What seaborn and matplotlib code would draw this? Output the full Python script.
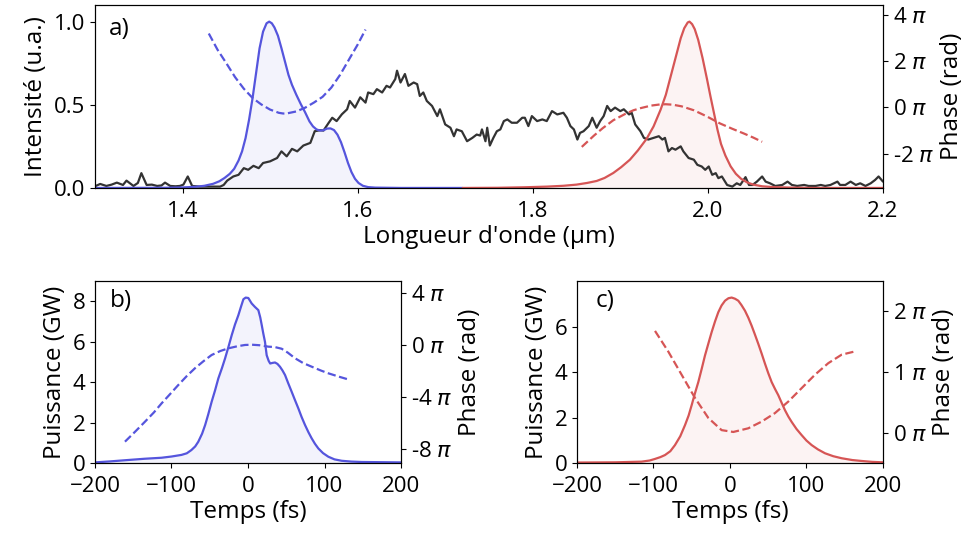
import numpy as np
import pandas as pd
import matplotlib
matplotlib.use("Agg")
import matplotlib.pyplot as plt
from matplotlib.ticker import FuncFormatter
import seaborn as sns

# ---- a) spectres ----
# spectre mesure (noir)
wl_mesure = [1.300, 1.306, 1.313, 1.319, 1.325, 1.332, 1.336, 1.344, 1.349, 1.353,
             1.359, 1.365, 1.371, 1.376, 1.380, 1.386, 1.392, 1.397, 1.401, 1.406,
             1.411, 1.420, 1.431, 1.443, 1.447, 1.451, 1.458, 1.464, 1.470, 1.475,
             1.481, 1.487, 1.492, 1.500, 1.508, 1.513, 1.519, 1.525, 1.531, 1.538,
             1.546, 1.551, 1.557, 1.561, 1.567, 1.571, 1.576, 1.582, 1.588, 1.591,
             1.597, 1.603, 1.609, 1.612, 1.618, 1.622, 1.628, 1.633, 1.637, 1.643,
             1.645, 1.649, 1.654, 1.658, 1.664, 1.668, 1.671, 1.675, 1.679, 1.685,
             1.691, 1.694, 1.700, 1.706, 1.710, 1.713, 1.719, 1.725, 1.731, 1.736,
             1.740, 1.742, 1.746, 1.748, 1.751, 1.755, 1.759, 1.763, 1.767, 1.771,
             1.776, 1.782, 1.788, 1.791, 1.795, 1.799, 1.805, 1.811, 1.816, 1.822,
             1.828, 1.835, 1.839, 1.843, 1.847, 1.851, 1.854, 1.858, 1.862, 1.864,
             1.868, 1.873, 1.877, 1.881, 1.885, 1.889, 1.894, 1.900, 1.904, 1.910,
             1.913, 1.917, 1.923, 1.927, 1.932, 1.938, 1.944, 1.948, 1.951, 1.955,
             1.959, 1.963, 1.969, 1.972, 1.978, 1.984, 1.988, 1.993, 1.997, 2.001,
             2.005, 2.009, 2.012, 2.016, 2.022, 2.028, 2.033, 2.037, 2.043, 2.047,
             2.051, 2.056, 2.062, 2.066, 2.071, 2.077, 2.085, 2.091, 2.096, 2.102,
             2.110, 2.115, 2.123, 2.129, 2.134, 2.140, 2.148, 2.151, 2.157, 2.163,
             2.169, 2.174, 2.180, 2.186, 2.191, 2.195, 2.200]
int_mesure = [0.010, 0.024, 0.012, 0.020, 0.032, 0.018, 0.044, 0.012, 0.030, 0.089,
              0.018, 0.020, 0.012, 0.015, 0.032, 0.012, 0.010, 0.012, 0.020, 0.069,
              0.012, 0.008, 0.008, 0.008, 0.018, 0.044, 0.069, 0.079, 0.119, 0.109,
              0.133, 0.119, 0.150, 0.160, 0.180, 0.220, 0.190, 0.235, 0.220, 0.255,
              0.271, 0.341, 0.347, 0.345, 0.392, 0.422, 0.402, 0.443, 0.473, 0.523,
              0.483, 0.545, 0.513, 0.574, 0.564, 0.594, 0.574, 0.614, 0.604, 0.655,
              0.705, 0.634, 0.685, 0.614, 0.634, 0.624, 0.553, 0.574, 0.523, 0.493,
              0.432, 0.473, 0.382, 0.362, 0.311, 0.352, 0.341, 0.281, 0.301, 0.321,
              0.315, 0.352, 0.281, 0.362, 0.255, 0.301, 0.341, 0.352, 0.402, 0.412,
              0.392, 0.392, 0.422, 0.422, 0.372, 0.432, 0.402, 0.412, 0.402, 0.462,
              0.442, 0.452, 0.422, 0.372, 0.352, 0.291, 0.331, 0.341, 0.362, 0.372,
              0.422, 0.362, 0.402, 0.432, 0.493, 0.462, 0.483, 0.462, 0.473, 0.442,
              0.452, 0.382, 0.341, 0.301, 0.291, 0.301, 0.311, 0.291, 0.301, 0.220,
              0.240, 0.230, 0.250, 0.220, 0.180, 0.170, 0.139, 0.129, 0.109, 0.129,
              0.079, 0.089, 0.059, 0.069, 0.018, 0.008, 0.028, 0.018, 0.065, 0.018,
              0.018, 0.038, 0.069, 0.038, 0.028, 0.012, 0.018, 0.038, 0.018, 0.012,
              0.018, 0.012, 0.012, 0.018, 0.012, 0.018, 0.038, 0.018, 0.018, 0.038,
              0.018, 0.028, 0.012, 0.028, 0.048, 0.069, 0.038]

# impulsion bleue (spectre + phase)
wl_bleu = [1.300, 1.380, 1.400, 1.415, 1.425, 1.435, 1.442, 1.448, 1.454, 1.459,
           1.464, 1.468, 1.472, 1.476, 1.480, 1.484, 1.488, 1.492, 1.496, 1.499,
           1.502, 1.505, 1.509, 1.513, 1.517, 1.521, 1.525, 1.530, 1.535, 1.540,
           1.545, 1.549, 1.553, 1.557, 1.561, 1.565, 1.569, 1.573, 1.577, 1.581,
           1.585, 1.589, 1.593, 1.597, 1.601, 1.606, 1.612, 1.620, 1.650, 1.720]
int_bleu = [0.0, 0.001, 0.003, 0.007, 0.013, 0.025, 0.040, 0.060, 0.085, 0.115,
            0.165, 0.220, 0.300, 0.410, 0.540, 0.690, 0.840, 0.940, 0.990, 1.000,
            0.990, 0.965, 0.915, 0.840, 0.760, 0.680, 0.620, 0.560, 0.505, 0.455,
            0.400, 0.370, 0.352, 0.345, 0.347, 0.357, 0.358, 0.348, 0.320, 0.275,
            0.215, 0.150, 0.095, 0.055, 0.030, 0.013, 0.005, 0.002, 0.0, 0.0]
wl_phase_bleu = [1.430, 1.440, 1.450, 1.460, 1.470, 1.480, 1.490, 1.500, 1.510, 1.515,
                 1.520, 1.530, 1.540, 1.550, 1.560, 1.570, 1.580, 1.590, 1.600, 1.609]
phase_bleu = [3.18, 2.48, 1.90, 1.30, 0.80, 0.40, 0.12, -0.10, -0.24, -0.27,
              -0.26, -0.18, -0.02, 0.20, 0.45, 0.85, 1.40, 2.05, 2.70, 3.35]

# impulsion rouge (spectre + phase)
wl_rouge = [1.720, 1.760, 1.790, 1.816, 1.835, 1.850, 1.862, 1.873, 1.882, 1.892,
            1.901, 1.911, 1.920, 1.930, 1.938, 1.946, 1.952, 1.958, 1.964, 1.969,
            1.973, 1.977, 1.979, 1.982, 1.985, 1.989, 1.994, 1.999, 2.003, 2.007,
            2.011, 2.015, 2.020, 2.026, 2.032, 2.038, 2.045, 2.052, 2.062, 2.075,
            2.095, 2.120, 2.200]
int_rouge = [0.0, 0.001, 0.004, 0.008, 0.013, 0.020, 0.030, 0.042, 0.060, 0.090,
             0.125, 0.170, 0.225, 0.295, 0.370, 0.470, 0.560, 0.680, 0.800, 0.900,
             0.960, 0.995, 1.000, 0.985, 0.955, 0.890, 0.780, 0.655, 0.550, 0.450,
             0.350, 0.265, 0.195, 0.130, 0.085, 0.055, 0.033, 0.020, 0.010, 0.005,
             0.002, 0.0, 0.0]
wl_phase_rouge = [1.856, 1.870, 1.880, 1.892, 1.905, 1.915, 1.923, 1.935, 1.945, 1.952,
                  1.960, 1.970, 1.984, 1.998, 2.014, 2.028, 2.041, 2.052, 2.062]
phase_rouge = [-1.71, -1.22, -0.90, -0.56, -0.30, -0.13, -0.04, 0.07, 0.12, 0.13,
               0.11, 0.04, -0.13, -0.38, -0.70, -0.93, -1.13, -1.31, -1.49]

# ---- b) profil temporel bleu ----
t_bleu = [-200, -180, -156, -135, -113, -100, -87, -80, -74, -69,
          -65, -60, -56, -52, -47.5, -43, -38.8, -34, -30, -25.5,
          -21.3, -17, -12.6, -9, -6, -3, 0.4, 4.8, 9, 13.5,
          16, 18, 20, 22.2, 24.4, 27, 29, 32, 35.3, 38.5,
          41.8, 45, 48.4, 52.5, 57.1, 61.5, 65.8, 70, 74.5, 79,
          83.2, 87.5, 91.9, 98, 105, 113, 122.4, 135, 148.6, 175,
          200]
p_bleu = [0.03, 0.08, 0.15, 0.21, 0.26, 0.32, 0.40, 0.48, 0.64, 0.82,
          1.05, 1.45, 1.88, 2.40, 3.03, 3.60, 4.18, 4.70, 5.17, 5.75,
          6.32, 6.85, 7.31, 7.75, 8.10, 8.18, 8.16, 7.89, 7.72, 7.56,
          7.20, 6.81, 6.40, 5.99, 5.33, 5.05, 4.92, 4.95, 4.97, 4.90,
          4.76, 4.58, 4.35, 3.95, 3.52, 3.10, 2.70, 2.28, 1.88, 1.52,
          1.22, 0.95, 0.72, 0.49, 0.31, 0.18, 0.11, 0.07, 0.05, 0.04,
          0.03]
t_phase_bleu = [-160.8, -147, -134.6, -123, -112.9, -102, -91.1, -80, -69.3, -58,
                -47.5, -36, -25.7, -14, -3.9, 5, 15, 26.6, 35, 44,
                52, 61.4, 72, 83.2, 95, 105, 120, 133.3]
phase_t_bleu = [-7.40, -6.60, -5.86, -5.15, -4.45, -3.75, -3.04, -2.35, -1.75, -1.20,
                -0.73, -0.42, -0.22, -0.06, 0.04, 0.06, 0.02, -0.09, -0.12, -0.25,
                -0.55, -0.98, -1.35, -1.63, -1.92, -2.14, -2.42, -2.65]

# ---- c) profil temporel rouge ----
t_rouge = [-200, -150, -115.5, -105, -98, -91, -85, -78, -71.9, -65,
           -58.8, -54, -50.1, -46, -41.4, -37, -32.7, -28, -24, -19.5,
           -15.3, -11, -6.5, -2, 2.2, 6.5, 10.9, 15, 19.6, 24,
           28.3, 32.5, 37.0, 41.5, 45.8, 50, 54.5, 59, 63.2, 67.5,
           71.9, 76.3, 80.7, 87, 93.7, 100, 106.8, 115, 124.2, 135,
           146, 160, 172, 186, 200]
p_rouge = [0.02, 0.03, 0.06, 0.11, 0.18, 0.26, 0.35, 0.52, 0.79, 1.18,
           1.67, 2.10, 2.55, 3.05, 3.57, 4.15, 4.74, 5.30, 5.77, 6.25,
           6.65, 6.95, 7.16, 7.27, 7.30, 7.25, 7.16, 6.97, 6.72, 6.41,
           6.06, 5.68, 5.26, 4.82, 4.38, 3.97, 3.57, 3.26, 2.99, 2.66,
           2.33, 2.05, 1.81, 1.50, 1.23, 0.99, 0.79, 0.60, 0.43, 0.30,
           0.21, 0.13, 0.09, 0.05, 0.03]
t_phase_rouge = [-98.0, -80.6, -63.2, -45.8, -28.3, -10.9, 4.4, 23.9, 41.4, 58.8,
                 76.3, 93.7, 111.1, 128.5, 146.0, 165.6]
phase_t_rouge = [1.68, 1.34, 0.96, 0.58, 0.25, 0.05, 0.02, 0.08, 0.19, 0.33,
                 0.52, 0.74, 0.96, 1.15, 1.29, 1.35]

BLEU = "#5555dd"
ROUGE = "#d65555"
GRIS = "#333333"


def format_pi(v, pos):
    # etiquette "n π" (phase en unites de pi)
    return f"{int(round(v))} $\\pi$"


def trace_courbe(ax, x, y, couleur, style="-", remplir=False):
    df = pd.DataFrame({"x": x, "y": y})
    sns.lineplot(data=df, x="x", y="y", ax=ax, color=couleur, linestyle=style,
                 linewidth=1.6, sort=False, estimator=None)
    if remplir:
        ax.fill_between(x, y, color=couleur, alpha=0.07, linewidth=0)


def axe_phase(ax, ticks, lim):
    ax2 = ax.twinx()
    ax2.set_ylim(*lim)
    ax2.set_yticks(ticks)
    ax2.yaxis.set_major_formatter(FuncFormatter(format_pi))
    return ax2


if __name__ == "__main__":
    sns.set_style("ticks", {"axes.edgecolor": "black", "xtick.color": "black",
                            "ytick.color": "black", "text.color": "black",
                            "axes.labelcolor": "black"})
    plt.rcParams["font.family"] = ["Open Sans", "DejaVu Sans"]
    plt.rcParams["font.size"] = 17.5
    plt.rcParams["xtick.labelsize"] = 16
    plt.rcParams["ytick.labelsize"] = 16
    plt.rcParams["xtick.major.pad"] = 6
    plt.rcParams["mathtext.fontset"] = "dejavusans"

    fig = plt.figure(figsize=(9.72, 5.37), dpi=100)
    ax_a = fig.add_axes([0.0977, 0.650, 0.8107, 0.3407])
    ax_b = fig.add_axes([0.0977, 0.1378, 0.3149, 0.3389])
    ax_c = fig.add_axes([0.5936, 0.1378, 0.3148, 0.3389])

    # a) spectres
    trace_courbe(ax_a, wl_mesure, int_mesure, GRIS)
    trace_courbe(ax_a, wl_bleu, int_bleu, BLEU, remplir=True)
    trace_courbe(ax_a, wl_rouge, int_rouge, ROUGE, remplir=True)
    ax_a.set_xlim(1.3, 2.2)
    ax_a.set_ylim(0, 1.1)
    ax_a.set_xticks([1.4, 1.6, 1.8, 2.0, 2.2])
    ax_a.set_yticks([0.0, 0.5, 1.0])
    ax_a.set_xlabel("Longueur d'onde (µm)", labelpad=2)
    ax_a.set_ylabel("Intensité (u.a.)")
    ax_a.text(0.018, 0.87, "a)", transform=ax_a.transAxes, va="center")
    ax_a2 = axe_phase(ax_a, [-2, 0, 2, 4], (-3.48, 4.41))
    trace_courbe(ax_a2, wl_phase_bleu, phase_bleu, BLEU, style="--")
    trace_courbe(ax_a2, wl_phase_rouge, phase_rouge, ROUGE, style="--")
    ax_a2.set_ylabel("Phase (rad)")

    # b) impulsion bleue
    trace_courbe(ax_b, t_bleu, p_bleu, BLEU, remplir=True)
    ax_b.set_xlim(-200, 200)
    ax_b.set_ylim(0, 9.0)
    ax_b.set_yticks([0, 2, 4, 6, 8])
    ax_b.set_xlabel("Temps (fs)", labelpad=2)
    ax_b.set_ylabel("Puissance (GW)")
    ax_b.text(0.05, 0.89, "b)", transform=ax_b.transAxes, va="center")
    ax_b2 = axe_phase(ax_b, [-8, -4, 0, 4], (-9.04, 4.96))
    trace_courbe(ax_b2, t_phase_bleu, phase_t_bleu, BLEU, style="--")
    ax_b2.set_ylabel("Phase (rad)")

    # c) impulsion rouge
    trace_courbe(ax_c, t_rouge, p_rouge, ROUGE, remplir=True)
    ax_c.set_xlim(-200, 200)
    ax_c.set_ylim(0, 8.03)
    ax_c.set_yticks([0, 2, 4, 6])
    ax_c.set_xlabel("Temps (fs)", labelpad=2)
    ax_c.set_ylabel("Puissance (GW)")
    ax_c.text(0.06, 0.89, "c)", transform=ax_c.transAxes, va="center")
    ax_c2 = axe_phase(ax_c, [0, 1, 2], (-0.49, 2.5))
    trace_courbe(ax_c2, t_phase_rouge, phase_t_rouge, ROUGE, style="--")
    ax_c2.set_ylabel("Phase (rad)")

    fig.savefig("out.png", dpi=100)
